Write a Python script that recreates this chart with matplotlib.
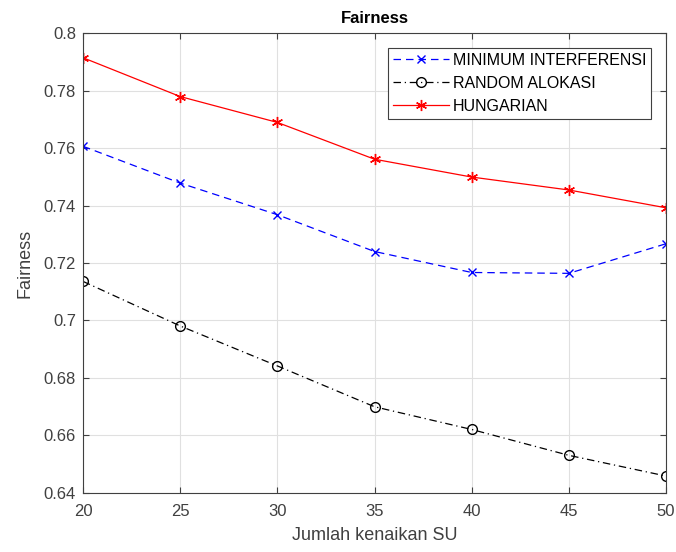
import matplotlib
matplotlib.use("Agg")
import matplotlib.pyplot as plt

plt.rcParams['font.family'] = ['Liberation Sans', 'DejaVu Sans']

su = [20, 25, 30, 35, 40, 45, 50]
min_interferensi = [0.7606, 0.7478, 0.7368, 0.7240, 0.7167, 0.7164, 0.7267]
random_alokasi = [0.7136, 0.6981, 0.6842, 0.6700, 0.6621, 0.6531, 0.6459]
hungarian = [0.7914, 0.7779, 0.7689, 0.7561, 0.7499, 0.7454, 0.7392]

fig = plt.figure(figsize=(6.76, 5.52), dpi=100)
ax = fig.add_axes([0.1228, 0.1069, 0.8624, 0.8333])

ax.plot(su, min_interferensi, color='#0000ff', linestyle=(0, (6, 4)), marker='x',
        markersize=6, linewidth=0.9, label='MINIMUM INTERFERENSI')
ax.plot(su, random_alokasi, color='black', linestyle=(0, (6, 3, 1, 3)), marker='o',
        markerfacecolor='none', markersize=7, linewidth=0.9, label='RANDOM ALOKASI')
ax.plot(su, hungarian, color='#ff0000', linestyle='-', marker=(6, 2, 0),
        markersize=8, linewidth=0.9, label='HUNGARIAN')

ax.set_xlim(20, 50)
ax.set_ylim(0.64, 0.8)
ax.set_xticks(su)
ax.set_yticks([0.64, 0.66, 0.68, 0.70, 0.72, 0.74, 0.76, 0.78, 0.80])
ax.set_yticklabels(['0.64', '0.66', '0.68', '0.7', '0.72', '0.74', '0.76', '0.78', '0.8'])
ax.grid(True, color='#e0e0e0', linewidth=0.8)
ax.set_axisbelow(True)
ax.tick_params(direction='in', top=True, right=True, labelsize=12, colors='#404040',
               length=4, pad=5)
ax.tick_params(axis='x', pad=8)
for s in ax.spines.values():
    s.set_color('#404040')
    s.set_linewidth(0.8)

ax.set_title('Fairness', fontsize=12, fontweight='bold', pad=7)
ax.set_xlabel('Jumlah kenaikan SU', fontsize=13, color='#404040', labelpad=6)
ax.set_ylabel('Fairness', fontsize=13, color='#404040', labelpad=7)

leg = ax.legend(loc='upper right', fontsize=11.5, fancybox=False, framealpha=1,
                edgecolor='#404040', borderaxespad=0.95, handlelength=3.5,
                labelspacing=0.5, borderpad=0.3, handletextpad=0.25)
leg.get_frame().set_linewidth(0.8)

fig.savefig('out.png', dpi=100)
